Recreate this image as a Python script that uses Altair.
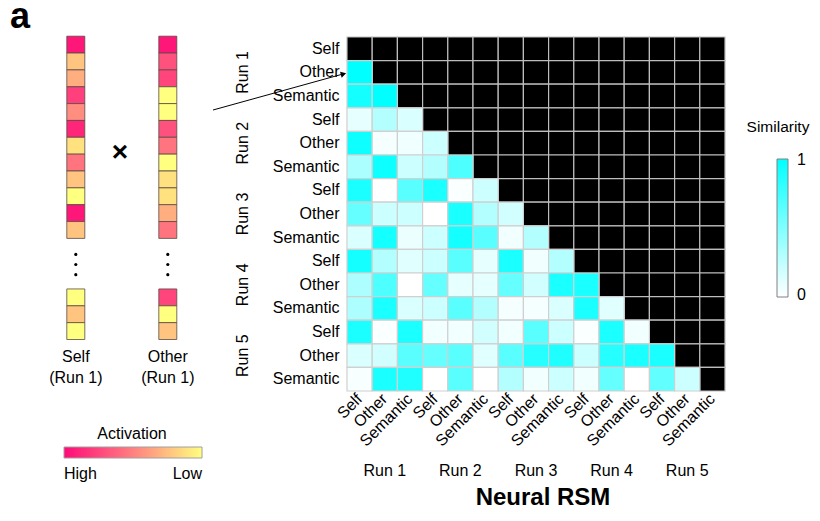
import altair as alt
import pandas as pd

F = "Liberation Sans"

runs = ["Run 1", "Run 2", "Run 3", "Run 4", "Run 5"]
conds = ["Self", "Other", "Semantic"]

# lower triangle of the neural RSM (row i = 2..15, columns 1..i-1)
lower = [
    [1.0],
    [0.92, 1.0],
    [0.1, 0.3, 0.15],
    [0.95, 0.04, 0.06, 0.2],
    [0.33, 0.95, 0.2, 0.3, 0.7],
    [0.9, 0.0, 0.65, 0.9, 0.02, 0.2],
    [0.6, 0.2, 0.2, 0.0, 0.9, 0.3, 0.18],
    [0.15, 0.92, 0.08, 0.2, 0.92, 0.65, 0.05, 0.3],
    [0.92, 0.3, 0.12, 0.2, 0.65, 0.1, 0.9, 0.05, 0.3],
    [0.32, 0.7, 0.0, 0.6, 0.1, 0.1, 0.6, 0.18, 0.9, 0.9],
    [0.32, 0.9, 0.15, 0.2, 0.65, 0.3, 0.04, 0.04, 0.15, 0.9, 0.12],
    [0.9, 0.02, 0.9, 0.05, 0.05, 0.18, 0.05, 0.65, 0.2, 0.02, 0.9, 0.05],
    [0.15, 0.18, 0.65, 0.6, 0.65, 0.12, 0.65, 0.85, 0.88, 0.2, 0.85, 0.9, 0.9],
    [0.03, 0.9, 0.88, 0.0, 0.65, 0.0, 0.3, 0.05, 0.2, 0.05, 0.6, 0.0, 0.62, 0.2],
]
sim_ticks = ["1", "0"]

# activation vectors (0 = high, 1 = low)
self_act = [0.05, 0.77, 0.68, 0.23, 0.55, 0.12, 0.88, 0.45, 0.77, 1.0, 0.05, 0.77]
self_tail = [1.0, 0.77, 1.0]
other_act = [0.05, 0.3, 0.25, 1.0, 1.0, 0.3, 0.45, 1.0, 0.88, 0.88, 0.68, 0.45]
other_tail = [0.25, 1.0, 0.77]
vector_labels = ["Self\n(Run 1)", "Other\n(Run 1)"]
dot_pos = [12.95, 13.55, 14.15]

keys = [f"{r}|{c}" for r in runs for c in conds]

sim_rows, black_rows = [], []
for i, rk in enumerate(keys):
    for j, ck in enumerate(keys):
        if j < i:
            sim_rows.append({"row": rk, "col": ck, "sim": lower[i - 1][j]})
        else:
            black_rows.append({"row": rk, "col": ck})
sim_df = pd.DataFrame(sim_rows)
black_df = pd.DataFrame(black_rows)

lab = "split(datum.label, '|')[1]"
xenc = alt.X("col:N", scale=alt.Scale(domain=keys, paddingInner=0, paddingOuter=0),
             axis=alt.Axis(labelExpr=lab, labelAngle=315, labelAlign="right",
                           labelBaseline="middle", labelPadding=5, labelFontSize=16,
                           labelColor="black", domain=False, ticks=False, title=None))
yenc = alt.Y("row:N", scale=alt.Scale(domain=keys, paddingInner=0, paddingOuter=0),
             axis=alt.Axis(labelExpr=lab, labelAlign="right", labelPadding=8,
                           labelFontSize=16, labelColor="black", domain=False,
                           ticks=False, title=None))

black_layer = alt.Chart(black_df).mark_rect(fill="black", stroke="#bdbdbd", strokeWidth=1.2).encode(x=xenc, y=yenc)
sim_layer = alt.Chart(sim_df).mark_rect(stroke="#d0d0d0", strokeWidth=1.2).encode(
    x=xenc, y=yenc,
    color=alt.Color("sim:Q", scale=alt.Scale(domain=[0, 1], range=["#ffffff", "#00ffff"], interpolate="rgb"),
                    legend=alt.Legend(title=None, orient="none", legendX=430, legendY=122,
                                      direction="vertical", gradientLength=138,
                                      gradientThickness=11, values=[0, 1],
                                      labelExpr="''", labelOpacity=0,
                                      gradientStrokeColor="#808080", gradientStrokeWidth=1,
                                      padding=0)))

sim_tick_df = pd.DataFrame({"t": sim_ticks, "pos": [0, 1]})
sim_tick_text = alt.Chart(sim_tick_df).mark_text(fontSize=16, align="left", baseline="middle").encode(
    x=alt.value(450),
    y=alt.Y("pos:Q", scale=alt.Scale(domain=[0, 1], range=[123, 258]), axis=None),
    text="t:N")

run_y_df = pd.DataFrame({"row": [f"{r}|Other" for r in runs], "run": runs})
run_x_df = pd.DataFrame({"col": [f"{r}|Other" for r in runs], "run": runs})
run_y = alt.Chart(run_y_df).mark_text(angle=270, fontSize=16, align="center", baseline="middle").encode(
    y=yenc, x=alt.value(-104), text="run:N")
run_x = alt.Chart(run_x_df).mark_text(fontSize=16, align="center", baseline="alphabetic").encode(
    x=xenc, y=alt.value(439), text="run:N")

one = pd.DataFrame({"t": ["Neural RSM"]})
title_x = alt.Chart(one).mark_text(fontSize=24, fontWeight="bold", align="center", baseline="alphabetic").encode(
    x=alt.value(196), y=alt.value(468), text="t:N")
sim_title = alt.Chart(pd.DataFrame({"t": ["Similarity"]})).mark_text(fontSize=15.5, align="center", baseline="alphabetic").encode(
    x=alt.value(431), y=alt.value(94.5), text="t:N")

heat = alt.layer(black_layer, sim_layer, run_y, run_x, title_x, sim_title)

# left panel
sq_rows = []
for c, (top, tail) in enumerate([(self_act, self_tail), (other_act, other_tail)]):
    for k, a in enumerate(top):
        sq_rows.append({"cx": c, "v0": k, "v1": k + 1, "act": a})
    for k, a in enumerate(tail):
        sq_rows.append({"cx": c, "v0": 15 + k, "v1": 16 + k, "act": a})
sq_df = pd.DataFrame(sq_rows)

lx = alt.Scale(domain=[0, 1], range=[-276.2, -174.2], zero=False, nice=False)
ly = alt.Scale(domain=[0, 18], range=[-0.8, 302.5], zero=False, nice=False)

squares = alt.Chart(sq_df).mark_bar(size=18, orient="vertical", stroke="#5a4a44", strokeWidth=0.8).encode(
    x=alt.X("cx:Q", scale=lx, axis=None),
    y=alt.Y("v0:Q", scale=ly, axis=None),
    y2="v1:Q",
    color=alt.Color("act:Q", scale=alt.Scale(domain=[0, 1], range=["#ff0a78", "#ff8080", "#ffff80"], interpolate="rgb"),
                    legend=alt.Legend(title=None, orient="none", legendX=-283, legendY=410,
                                      direction="horizontal", gradientLength=138,
                                      gradientThickness=11, values=[0, 1],
                                      labelExpr="datum.value == 0 ? 'High' : 'Low'",
                                      labelAlign="center", labelOffset=8, labelFontSize=16,
                                      labelColor="black", gradientStrokeColor="#a0a0a0",
                                      gradientStrokeWidth=1, padding=0)))

dots_df = pd.DataFrame([{"cx": c, "v": v} for c in [0, 1] for v in dot_pos])
dots = alt.Chart(dots_df).mark_circle(size=10, color="black", opacity=1).encode(
    x=alt.X("cx:Q", scale=lx, axis=None), y=alt.Y("v:Q", scale=ly, axis=None))

vl_df = pd.DataFrame({"cx": [0, 1], "t": vector_labels})
vtexts = alt.Chart(vl_df).mark_text(fontSize=16, align="center", baseline="top", lineBreak="\n", lineHeight=21).encode(
    x=alt.X("cx:Q", scale=lx, axis=None), y=alt.value(312), text="t:N")

times = alt.Chart(pd.DataFrame({"cx": [0.48], "t": ["×"]})).mark_text(fontSize=28, fontWeight="bold", align="center", baseline="middle").encode(
    x=alt.X("cx:Q", scale=lx, axis=None), y=alt.value(116), text="t:N")

act_title = alt.Chart(pd.DataFrame({"t": ["Activation"]})).mark_text(fontSize=16, align="center", baseline="alphabetic").encode(
    x=alt.value(-215), y=alt.value(401.5), text="t:N")

panel_a = alt.Chart(pd.DataFrame({"t": ["a"]})).mark_text(fontSize=36, fontWeight="bold", align="left", baseline="alphabetic").encode(
    x=alt.value(-337), y=alt.value(-9), text="t:N")

arrow_line = alt.Chart(pd.DataFrame({"t": [0]})).mark_rule(color="black", strokeWidth=1).encode(
    x=alt.value(-134), y=alt.value(73), x2=alt.value(-4), y2=alt.value(37))
arrow_head = alt.Chart(pd.DataFrame({"t": [0]})).mark_point(shape="triangle-right", filled=True, size=40, angle=345, color="black", opacity=1).encode(
    x=alt.value(-3.5), y=alt.value(37))

left = alt.layer(squares, dots, vtexts, times, act_title, panel_a, arrow_line, arrow_head)

chart = alt.layer(heat, left, sim_tick_text).resolve_scale(
    x="independent", y="independent", color="independent"
).properties(
    width=378, height=354,
    padding={"left": 339, "top": 29, "right": 87, "bottom": 124},
    autosize=alt.AutoSizeParams(type="none"),
).configure(font=F).configure_view(stroke=None)

chart.save("out.html", embed_options={"renderer": "svg", "actions": False})
